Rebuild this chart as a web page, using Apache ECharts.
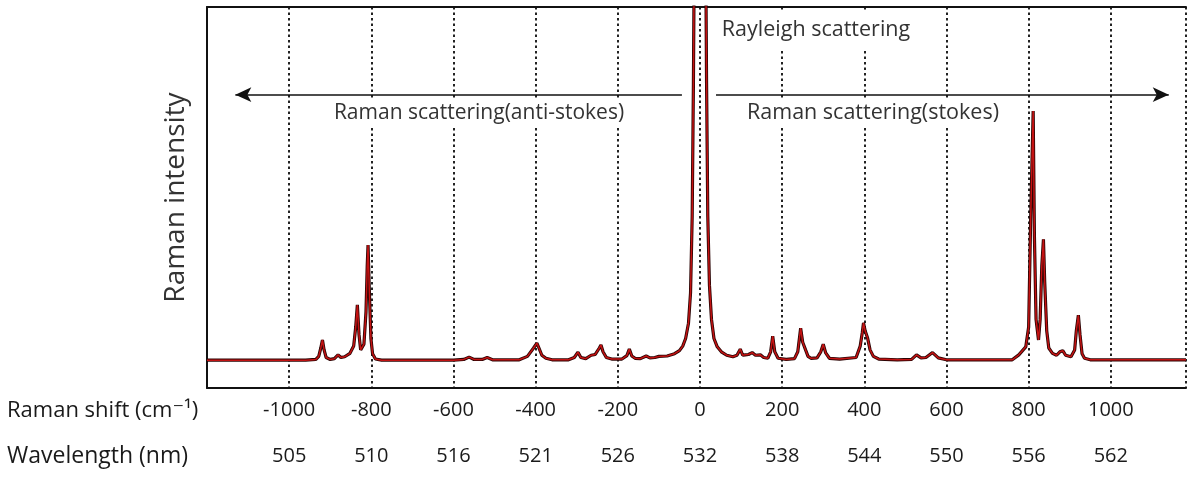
<!DOCTYPE html>
<html>
<head>
<meta charset="utf-8">
<script src="https://cdn.jsdelivr.net/npm/echarts@6/dist/echarts.min.js"></script>
<style>
html,body{margin:0;padding:0;background:#fff;}
#chart{width:1189px;height:478px;}
</style>
</head>
<body>
<div id="chart"></div>
<script>
// ---- data ----
const shiftTicks = [-1000, -800, -600, -400, -200, 0, 200, 400, 600, 800, 1000];
const wavelengthLabels = ['505', '510', '516', '521', '526', '532', '538', '544', '550', '556', '562'];

// Raman shift (cm^-1) of each traced point of the spectrum
const spectrumShift = [
  -1200, -960, -935, -928, -923, -919, -915, -910, -900, -890, -881, -874, -865, -852, -843, -838, -834, -830, -826, -823,
  -818, -813, -810, -808, -805, -801, -797, -790, -775, -600, -575, -562, -550, -530, -518, -505, -440, -420, -405, -397,
  -392, -385, -375, -360, -320, -306, -297, -290, -278, -265, -255, -245, -241, -236, -228, -215, -190, -178, -172, -166,
  -158, -145, -131, -122, -110, -100, -80, -62, -50, -42, -35, -28, -23, -19, -16, -13, 0, 13, 16, 19,
  23, 28, 34, 42, 52, 65, 80, 90, 98, 104, 110, 118, 127, 135, 147, 155, 165, 172, 177, 182,
  190, 210, 230, 238, 242, 245, 250, 257, 263, 270, 285, 294, 300, 306, 315, 340, 380, 390, 395, 398,
  402, 408, 414, 422, 435, 480, 515, 527, 538, 550, 566, 580, 600, 760, 776, 793, 800, 805, 811, 814,
  818, 824, 828, 832, 836, 839, 844, 849, 858, 868, 876, 883, 890, 903, 912, 916, 921, 925, 930, 936,
  950, 1183
];
// Raman intensity (arbitrary units, axis 0..100) of each traced point
const spectrumIntensity = [
  7.3, 7.3, 7.5, 8.3, 10.5, 12.6, 10, 8, 7.5, 7.7, 8.7, 8, 8.2, 9.1, 11, 16, 21.8, 14, 10, 9.5,
  11.5, 20, 32, 37.5, 26, 13, 9, 7.6, 7.3, 7.3, 7.5, 8.1, 7.5, 7.5, 8, 7.4, 7.4, 8.3, 10.5, 11.8,
  10.5, 8.6, 7.8, 7.4, 7.4, 8, 9.4, 8, 7.7, 8.6, 8.8, 10.5, 11.3, 9.5, 8, 7.6, 7.6, 8.5, 10.2, 8.4,
  7.8, 7.7, 8.4, 7.9, 8, 8.3, 8.4, 9, 9.8, 11, 13, 17, 25, 45, 80, 130, 180, 130, 80, 45,
  27, 18, 13, 10.8, 9.5, 8.6, 8.2, 8.6, 10.2, 8.6, 8.7, 8.8, 9.3, 8.6, 8.7, 8, 7.8, 9.5, 13.6, 9.5,
  7.8, 7.5, 7.7, 9.5, 13, 15.7, 12, 10, 8.3, 7.8, 7.9, 9.5, 11.5, 9.2, 7.8, 7.6, 8, 11, 14.5, 17.1,
  15, 13.1, 10, 8.3, 7.6, 7.4, 7.5, 8.7, 7.9, 8, 9.3, 7.9, 7.4, 7.4, 8.7, 10.8, 16, 45, 72.7, 40,
  18, 12.6, 18, 32, 39, 28, 15, 10.5, 9.1, 8.6, 9.5, 9.8, 8.6, 8.2, 10, 15, 19.1, 14, 9, 7.8,
  7.4, 7.4
];

// annotation arrows (shift from, shift to) at a common intensity level
const arrowAntiStokes = [-44, -1131];
const arrowStokes = [39, 1141];
const arrowLevel = 77;

const spectrum = spectrumShift.map((s, i) => [s, spectrumIntensity[i]]);

const FONT = '"Open Sans", "DejaVu Sans", sans-serif';
const chart = echarts.init(document.getElementById('chart'));

const option = {
  animation: false,
  backgroundColor: '#fff',
  grid: { left: 207, right: 0, top: 7, bottom: 90, containLabel: false },
  xAxis: [
    {
      type: 'value', min: -1200, max: 1183, interval: 200, position: 'bottom',
      axisLine: { show: true, onZero: false, lineStyle: { color: '#111', width: 2 } },
      axisTick: { show: false },
      axisLabel: {
        margin: 12, color: '#1a1a1a', fontFamily: FONT, fontSize: 20,
        formatter: v => (shiftTicks.indexOf(v) >= 0 ? String(v) : '')
      },
      splitLine: { show: true, lineStyle: { color: '#222', width: 2, type: [2.5, 3] } }
    },
    {
      type: 'value', min: -1200, max: 1183, interval: 200, position: 'bottom', offset: 46,
      axisLine: { show: false }, axisTick: { show: false }, splitLine: { show: false },
      axisLabel: {
        margin: 12, color: '#1a1a1a', fontFamily: FONT, fontSize: 20,
        formatter: v => { const i = shiftTicks.indexOf(v); return i >= 0 ? wavelengthLabels[i] : ''; }
      }
    },
    {
      type: 'value', min: -1200, max: 1183, position: 'top',
      axisLine: { show: true, onZero: false, lineStyle: { color: '#111', width: 2 } },
      axisTick: { show: false }, axisLabel: { show: false }, splitLine: { show: false }
    }
  ],
  yAxis: {
    type: 'value', min: 0, max: 100,
    axisLine: { show: true, onZero: false, lineStyle: { color: '#111', width: 2 } },
    axisTick: { show: false }, axisLabel: { show: false }, splitLine: { show: false },
    name: 'Raman intensity', nameLocation: 'middle', nameGap: 17,
    nameTextStyle: { fontFamily: FONT, fontSize: 28, color: '#333' }
  },
  series: [
    {
      type: 'line', data: spectrum, xAxisIndex: 0, showSymbol: false, clip: true, z: 3, silent: true,
      lineStyle: { color: '#2a0404', width: 3.2 },
      markLine: {
        silent: true, symbol: ['none', 'arrow'], symbolSize: [11, 16],
        label: { show: false },
        lineStyle: { color: '#111', width: 1.6, type: 'solid' },
        data: [
          [{ coord: [arrowAntiStokes[0], arrowLevel] }, { coord: [arrowAntiStokes[1], arrowLevel] }],
          [{ coord: [arrowStokes[0], arrowLevel] }, { coord: [arrowStokes[1], arrowLevel] }]
        ]
      }
    },
    {
      type: 'line', data: spectrum, xAxisIndex: 0, showSymbol: false, clip: true, z: 4, silent: true,
      lineStyle: { color: '#c41212', width: 1.5 }
    }
  ],
  graphic: [
    {
      type: 'text', x: 479, y: 113, z: 100,
      style: { text: 'Raman scattering(anti-stokes)', font: '21px ' + FONT, fill: '#333',
        align: 'center', verticalAlign: 'middle', backgroundColor: '#fff', padding: [3, 4] }
    },
    {
      type: 'text', x: 873, y: 113, z: 100,
      style: { text: 'Raman scattering(stokes)', font: '21.5px ' + FONT, fill: '#333',
        align: 'center', verticalAlign: 'middle', backgroundColor: '#fff', padding: [3, 4] }
    },
    {
      type: 'text', x: 816, y: 30, z: 100,
      style: { text: 'Rayleigh scattering', font: '21.5px ' + FONT, fill: '#333',
        align: 'center', verticalAlign: 'middle', backgroundColor: '#fff', padding: [8, 4, 10, 4] }
    },
    {
      type: 'text', x: 7, y: 411, z: 100,
      style: { text: 'Raman shift (cm⁻¹)', font: '22px ' + FONT, fill: '#1a1a1a',
        align: 'left', verticalAlign: 'middle' }
    },
    {
      type: 'text', x: 7, y: 456, z: 100,
      style: { text: 'Wavelength (nm)', font: '23px ' + FONT, fill: '#1a1a1a',
        align: 'left', verticalAlign: 'middle' }
    }
  ]
};
chart.setOption(option);
</script>
</body>
</html>
